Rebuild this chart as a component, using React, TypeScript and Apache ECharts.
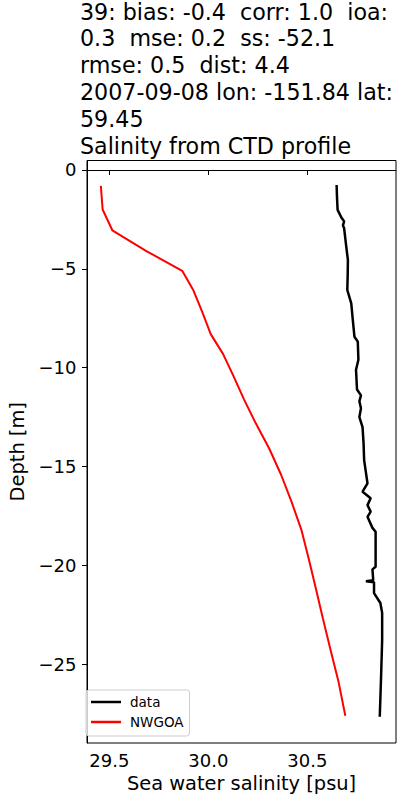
import React, { useEffect, useRef } from "react";
import * as echarts from "echarts";

const titleLines = [
  "39: bias: -0.4  corr: 1.0  ioa:",
  "0.3  mse: 0.2  ss: -52.1",
  "rmse: 0.5  dist: 4.4",
  "2007-09-08 lon: -151.84 lat:",
  "59.45",
  "Salinity from CTD profile",
];

const xTicks = [29.5, 30.0, 30.5];
const yTicks = [0, -5, -10, -15, -20, -25];

// observed CTD profile (salinity, depth)
const dataSalinity = [
  30.648, 30.650, 30.653, 30.672, 30.686, 30.680, 30.686, 30.697, 30.705, 30.704,
  30.702, 30.722, 30.730, 30.738, 30.755, 30.758, 30.746, 30.751, 30.771, 30.763,
  30.771, 30.763, 30.779, 30.784, 30.787, 30.804, 30.779, 30.820, 30.804, 30.820,
  30.804, 30.829, 30.845, 30.845, 30.829, 30.833, 30.796, 30.837, 30.837, 30.869,
  30.878, 30.878, 30.873, 30.866,
];
const dataDepth = [
  -0.76, -1.4, -2.02, -2.4, -2.6, -2.8, -2.95, -3.9, -4.55, -5.3,
  -6.07, -6.75, -7.6, -8.43, -8.68, -9.6, -10.1, -11.1, -11.4, -11.7,
  -12.05, -12.5, -13.0, -13.8, -14.67, -15.85, -16.27, -16.6, -16.95, -17.28,
  -17.54, -18.1, -18.3, -20.07, -20.2, -20.75, -20.8, -20.85, -21.4, -21.9,
  -22.4, -23.8, -25.5, -27.65,
];

// model profile (salinity, depth)
const modelSalinity = [
  29.457, 29.466, 29.515, 29.687, 29.868, 29.925, 29.970, 30.012, 30.074, 30.126,
  30.180, 30.239, 30.308, 30.367, 30.421, 30.470, 30.508, 30.544, 30.579, 30.618,
  30.658, 30.692,
];
const modelDepth = [
  -0.8, -2.0, -3.05, -4.1, -5.1, -6.1, -7.2, -8.3, -9.3, -10.4,
  -11.6, -12.8, -14.1, -15.4, -16.8, -18.2, -19.7, -21.2, -22.7, -24.3,
  -25.9, -27.6,
];

const FONT = "DejaVu Sans";

export default function App() {
  const ref = useRef<HTMLDivElement>(null);
  useEffect(() => {
    document.body.style.margin = "0";
    if (!ref.current) return;
    const chart = echarts.init(ref.current, undefined, { renderer: "svg" });
    const fmtY = (v: number) => (v < 0 ? "\u2212" + Math.abs(v) : String(v));
    chart.setOption({
      animation: false,
      backgroundColor: "#fff",
      title: titleLines.map((t, i) => ({
        text: t,
        left: 80,
        top: 0.5 + i * 26.8,
        padding: 0,
        textStyle: {
          fontFamily: FONT,
          fontSize: 22.2,
          fontWeight: "normal",
          color: "#000",
        },
      })),
      legend: {
        orient: "vertical",
        left: 86,
        top: 690,
        padding: [5, 6, 7, 5],
        itemWidth: 30,
        itemHeight: 2.5,
        itemGap: 6,
        itemStyle: { borderWidth: 0 },
        icon: "rect",
        borderColor: "#cccccc",
        borderWidth: 1,
        borderRadius: 3,
        backgroundColor: "rgba(255,255,255,0.8)",
        textStyle: { fontFamily: FONT, fontSize: 13.5, color: "#000", lineHeight: 14, padding: [0, 0, 0, 4] },
        data: ["data", "NWGOA"],
      },
      grid: {
        left: 79,
        right: 4,
        top: 160.5,
        bottom: 57,
        show: true,
        borderColor: "#000",
        borderWidth: 1,
        backgroundColor: "transparent",
      },
      xAxis: {
        type: "value",
        min: 29.387,
        max: 30.948,
        name: "Sea water salinity [psu]",
        nameLocation: "middle",
        nameGap: 31,
        nameTextStyle: { fontFamily: FONT, fontSize: 19.4, color: "#000" },
        axisLine: { show: true, lineStyle: { color: "#000", width: 1 } },
        axisTick: { show: true, length: 5, lineStyle: { color: "#000" }, customValues: xTicks },
        axisLabel: {
          fontFamily: FONT,
          fontSize: 18,
          color: "#000",
          margin: 8,
          customValues: xTicks,
          formatter: (v: number) => v.toFixed(1),
        },
        splitLine: { show: false },
      },
      yAxis: {
        type: "value",
        min: -28.98,
        max: 0.48,
        name: "Depth [m]",
        nameLocation: "middle",
        nameGap: 60,
        nameTextStyle: { fontFamily: FONT, fontSize: 19.4, color: "#000" },
        axisLine: { show: true, lineStyle: { color: "#000", width: 1 } },
        axisTick: { show: true, length: 5, lineStyle: { color: "#000" }, customValues: yTicks },
        axisLabel: {
          fontFamily: FONT,
          fontSize: 18,
          color: "#000",
          margin: 10.5,
          customValues: yTicks,
          formatter: fmtY,
        },
        splitLine: { show: false },
      },
      series: [
        {
          name: "data",
          type: "line",
          symbol: "none",
          smooth: false,
          lineStyle: { color: "#000", width: 2.5 },
          itemStyle: { color: "#000" },
          data: dataSalinity.map((s, i) => [s, dataDepth[i]]),
        },
        {
          name: "NWGOA",
          type: "line",
          symbol: "none",
          smooth: false,
          lineStyle: { color: "#ff0000", width: 2 },
          itemStyle: { color: "#ff0000" },
          data: modelSalinity.map((s, i) => [s, modelDepth[i]]),
        },
      ],
    });
    return () => chart.dispose();
  }, []);
  return <div ref={ref} style={{ width: 400, height: 800 }} />;
}
